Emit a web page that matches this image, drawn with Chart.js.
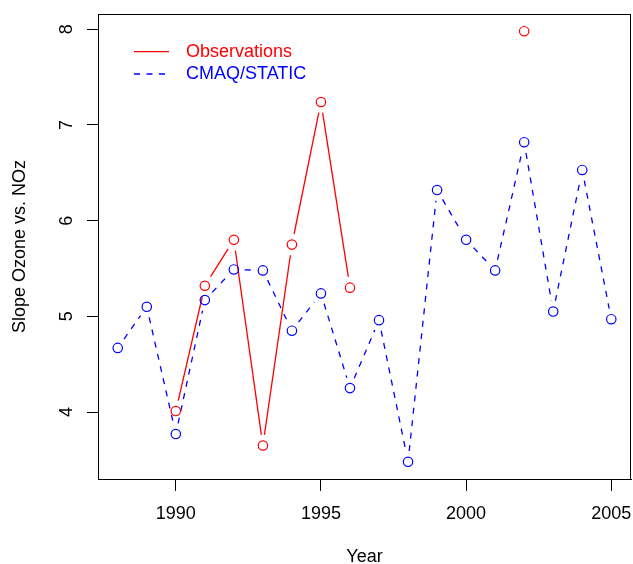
<!DOCTYPE html>
<html>
<head>
<meta charset="utf-8">
<script src="https://cdn.jsdelivr.net/npm/chart.js@4"></script>
<style>
  body { margin: 0; background: #fff; }
</style>
</head>
<body>
<canvas id="ozoneChart" width="633" height="564"></canvas>
<script>
const years = [1988, 1989, 1990, 1991, 1992, 1993, 1994, 1995, 1996,
               1997, 1998, 1999, 2000, 2001, 2002, 2003, 2004, 2005];
const observations = [null, null, 4.01, 5.32, 5.80, 3.65, 5.75, 7.24, 5.30,
                      null, null, null, null, null, 7.98, null, null, null];
const cmaqStatic = [4.67, 5.10, 3.77, 5.17, 5.49, 5.48, 4.85, 5.24, 4.25,
                    4.96, 3.48, 6.32, 5.80, 5.48, 6.82, 5.05, 6.53, 4.97];
const xTicks = [1990, 1995, 2000, 2005];
const yTicks = [4, 5, 6, 7, 8];

const FONT = '"Liberation Sans", Arial, Helvetica, sans-serif';

// R style axis range: data range widened by 4% on each side
function paddedRange(values) {
    const v = values.filter(x => x !== null);
    const lo = Math.min(...v), hi = Math.max(...v);
    const pad = (hi - lo) * 0.04;
    return [lo - pad, hi + pad];
}
const [xMin, xMax] = paddedRange(years);
const [yMin, yMax] = paddedRange(observations.concat(cmaqStatic));

const toPoints = vals => years.map((yr, i) => ({ x: yr, y: vals[i] }));

// Lines that stop short of each point, like R type = "b"
const gappedLines = {
    id: 'gappedLines',
    beforeDatasetsDraw(chart) {
        const ctx = chart.ctx;
        const area = chart.chartArea;
        chart.data.datasets.forEach((ds, i) => {
            const meta = chart.getDatasetMeta(i);
            const gap = ds.lineGap || 0;
            ctx.save();
            ctx.beginPath();
            ctx.rect(area.left, area.top, area.right - area.left, area.bottom - area.top);
            ctx.clip();
            ctx.strokeStyle = ds.borderColor;
            ctx.lineWidth = ds.borderWidth;
            ctx.setLineDash(ds.dash || []);
            for (let k = 1; k < meta.data.length; k++) {
                const a = meta.data[k - 1], b = meta.data[k];
                if (a.skip || b.skip) continue;
                const dx = b.x - a.x, dy = b.y - a.y;
                const d = Math.hypot(dx, dy);
                if (d <= 2 * gap) continue;
                const f = gap / d;
                ctx.beginPath();
                ctx.moveTo(a.x + f * dx, a.y + f * dy);
                ctx.lineTo(b.x - f * dx, b.y - f * dy);
                ctx.stroke();
            }
            ctx.restore();
        });
    }
};

// Box, rotated y tick labels and the legend
const frameAndLegend = {
    id: 'frameAndLegend',
    afterDraw(chart) {
        const ctx = chart.ctx;
        const area = chart.chartArea;
        ctx.save();
        ctx.strokeStyle = '#000';
        ctx.lineWidth = 1;
        ctx.setLineDash([]);
        ctx.strokeRect(Math.round(area.left) + 0.5, Math.round(area.top) + 0.5,
                       Math.round(area.right - area.left) - 1, Math.round(area.bottom - area.top));

        // y tick labels, read bottom to top
        const yScale = chart.scales.y;
        ctx.fillStyle = '#000';
        ctx.font = '18px ' + FONT;
        ctx.textAlign = 'center';
        ctx.textBaseline = 'middle';
        yScale.ticks.forEach(t => {
            const py = yScale.getPixelForValue(t.value);
            ctx.save();
            ctx.translate(area.left - 31, py);
            ctx.rotate(-Math.PI / 2);
            ctx.fillText(String(t.value), 0, 0);
            ctx.restore();
        });

        // legend
        ctx.textAlign = 'left';
        chart.data.datasets.forEach((ds, i) => {
            const ly = area.top + 37.7 + i * 22.3;
            ctx.strokeStyle = ds.borderColor;
            ctx.lineWidth = ds.borderWidth;
            ctx.setLineDash(ds.dash || []);
            ctx.beginPath();
            ctx.moveTo(area.left + 36, ly);
            ctx.lineTo(area.left + 71, ly);
            ctx.stroke();
            ctx.fillStyle = ds.borderColor;
            ctx.fillText(ds.label, area.left + 88, ly);
        });
        ctx.restore();
    }
};

const ctx = document.getElementById('ozoneChart').getContext('2d');
new Chart(ctx, {
    type: 'line',
    data: {
        datasets: [
            {
                label: 'Observations',
                data: toPoints(observations),
                borderColor: '#FF0000',
                borderWidth: 1.3,
                showLine: false,
                lineGap: 10.8,
                pointRadius: 4.7,
                pointBorderWidth: 1.2,
                pointBackgroundColor: 'rgba(0,0,0,0)',
                pointBorderColor: '#FF0000',
            },
            {
                label: 'CMAQ/STATIC',
                data: toPoints(cmaqStatic),
                borderColor: '#0000FF',
                borderWidth: 1.3,
                dash: [6, 6.5],
                showLine: false,
                lineGap: 10.8,
                pointRadius: 4.7,
                pointBorderWidth: 1.2,
                pointBackgroundColor: 'rgba(0,0,0,0)',
                pointBorderColor: '#0000FF',
            }
        ]
    },
    options: {
        responsive: false,
        animation: false,
        layout: { autoPadding: false, padding: { top: 14, right: 2, left: 0, bottom: 0 } },
        plugins: {
            legend: { display: false },
            tooltip: { enabled: false }
        },
        scales: {
            x: {
                type: 'linear',
                min: xMin,
                max: xMax,
                afterBuildTicks: s => { s.ticks = xTicks.map(v => ({ value: v })); },
                afterFit: s => { s.height = 85; s.paddingLeft = 0; s.paddingRight = 0; },
                grid: { drawOnChartArea: false, drawTicks: true, tickLength: 12, color: '#000', lineWidth: 1 },
                border: { display: true, color: '#000' },
                ticks: {
                    font: { family: FONT, size: 18 },
                    color: '#000',
                    padding: 12,
                    maxRotation: 0,
                    autoSkip: false,
                    callback: v => String(v)
                },
                title: {
                    display: true,
                    text: 'Year',
                    color: '#000',
                    font: { family: FONT, size: 18, lineHeight: 0.78 },
                    padding: 0
                }
            },
            y: {
                type: 'linear',
                min: yMin,
                max: yMax,
                afterBuildTicks: s => { s.ticks = yTicks.map(v => ({ value: v })); },
                afterFit: s => { s.width = 98; s.paddingTop = 0; s.paddingBottom = 0; },
                grid: { drawOnChartArea: false, drawTicks: true, tickLength: 11, color: '#000', lineWidth: 1 },
                border: { display: true, color: '#000' },
                ticks: { display: false },
                title: {
                    display: true,
                    text: 'Slope Ozone vs. NOz',
                    color: '#000',
                    font: { family: FONT, size: 18, lineHeight: 1 },
                    padding: { top: 11, bottom: 0 }
                }
            }
        }
    },
    plugins: [gappedLines, frameAndLegend]
});
</script>
</body>
</html>
